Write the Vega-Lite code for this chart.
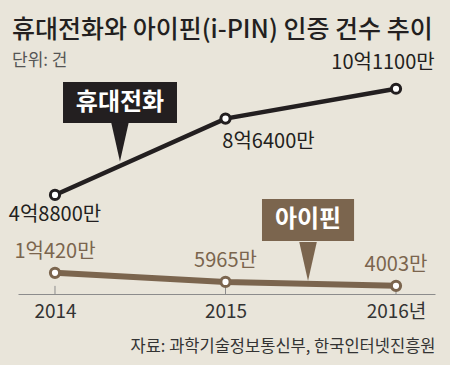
{
  "$schema": "https://vega.github.io/schema/vega-lite/v6.json",
  "width": 417,
  "height": 290,
  "autosize": "none",
  "padding": {"left": 18, "top": 75, "right": 15, "bottom": 0},
  "background": "#e9e5da",
  "config": {"view": {"stroke": null}, "font": "Noto Sans CJK KR"},
  "title": {
    "text": "휴대전화와 아이핀(i-PIN) 인증 건수 추이",
    "subtitle": "단위: 건",
    "anchor": "start",
    "frame": "group",
    "dx": -6,
    "offset": -16,
    "font": "Noto Sans CJK KR",
    "fontSize": 25,
    "fontWeight": 500,
    "color": "#231f20",
    "subtitleFont": "Noto Sans CJK KR",
    "subtitleFontSize": 17,
    "subtitleColor": "#555555",
    "subtitlePadding": 10
  },
  "datasets": {
    "series": [
      {"year": 2014, "series": "휴대전화", "count": 488000000, "label": "4억8800만"},
      {"year": 2015, "series": "휴대전화", "count": 864000000, "label": "8억6400만"},
      {"year": 2016, "series": "휴대전화", "count": 1011000000, "label": "10억1100만"},
      {"year": 2014, "series": "아이핀", "count": 104200000, "label": "1억420만"},
      {"year": 2015, "series": "아이핀", "count": 59650000, "label": "5965만"},
      {"year": 2016, "series": "아이핀", "count": 40030000, "label": "4003만"}
    ],
    "boxes": [
      {"series": "휴대전화", "x1": 2014.047, "x2": 2014.7155, "y1": 1044300000, "y2": 842400000, "tx": 2014.381, "ty": 943300000, "tipx": 2014.381, "tipy": 748800000},
      {"series": "아이핀", "x1": 2015.214, "x2": 2015.754, "y1": 468000000, "y2": 261100000, "tx": 2015.484, "ty": 364500000, "tipx": 2015.484, "tipy": 160100000}
    ]
  },
  "layer": [
    {
      "data": {"name": "series"},
      "transform": [{"filter": "datum.series == '아이핀'"}],
      "mark": {"type": "rule", "color": "#8c8c8c", "strokeWidth": 1},
      "encoding": {
        "x": {
          "field": "year",
          "type": "quantitative",
          "scale": {"domain": [2013.783, 2016.2287], "nice": false, "zero": false},
          "axis": {
            "values": [2014, 2015, 2016],
            "offset": -71,
            "ticks": false,
            "grid": false,
            "domainColor": "#8c8c8c",
            "domainWidth": 1,
            "labelExpr": "datum.value == 2016 ? '2016년' : datum.value + ''",
            "labelFont": "Liberation Sans Narrow, Noto Sans CJK KR",
            "labelFontSize": 19,
            "labelColor": "#333333",
            "labelPadding": 8,
            "labelFlush": false,
            "title": "자료: 과학기술정보통신부, 한국인터넷진흥원",
            "titleAnchor": "end",
            "titleFont": "Noto Sans CJK KR",
            "titleFontWeight": "normal",
            "titleFontSize": 16.5,
            "titleColor": "#333333",
            "titlePadding": 17
          }
        },
        "y": {"datum": 0, "type": "quantitative", "scale": {"domain": [-349750000, 1078800000], "nice": false, "zero": false}, "axis": null},
        "y2": {"datum": 40000000}
      }
    },
    {
      "data": {"name": "series"},
      "mark": {"type": "line"},
      "encoding": {
        "x": {"field": "year", "type": "quantitative"},
        "y": {"field": "count", "type": "quantitative"},
        "color": {"field": "series", "type": "nominal", "scale": {"domain": ["휴대전화", "아이핀"], "range": ["#231f20", "#7b654e"]}, "legend": null},
        "strokeWidth": {"field": "series", "type": "nominal", "scale": {"domain": ["휴대전화", "아이핀"], "range": [4.5, 6]}, "legend": null}
      }
    },
    {
      "data": {"name": "series"},
      "mark": {"type": "point", "filled": true, "fill": "white", "size": 85, "strokeWidth": 3, "opacity": 1},
      "encoding": {
        "x": {"field": "year", "type": "quantitative"},
        "y": {"field": "count", "type": "quantitative"},
        "stroke": {"field": "series", "type": "nominal", "scale": {"domain": ["휴대전화", "아이핀"], "range": ["#231f20", "#7b654e"]}, "legend": null}
      }
    },
    {
      "data": {"name": "series"},
      "transform": [{"filter": "datum.series == '아이핀'"}],
      "mark": {"type": "text", "font": "Liberation Sans Narrow, Noto Sans CJK KR", "fontSize": 20, "baseline": "middle", "align": "center", "dy": -21},
      "encoding": {
        "x": {"field": "year", "type": "quantitative"},
        "y": {"field": "count", "type": "quantitative"},
        "text": {"field": "label"},
        "color": {"field": "series", "type": "nominal", "legend": null}
      }
    },
    {
      "data": {"name": "series"},
      "transform": [{"filter": "datum.series == '휴대전화' && datum.year == 2014"}],
      "mark": {"type": "text", "font": "Liberation Sans Narrow, Noto Sans CJK KR", "fontSize": 20, "baseline": "middle", "align": "center", "dy": 20},
      "encoding": {
        "x": {"field": "year", "type": "quantitative"},
        "y": {"field": "count", "type": "quantitative"},
        "text": {"field": "label"},
        "color": {"field": "series", "type": "nominal", "legend": null}
      }
    },
    {
      "data": {"name": "series"},
      "transform": [{"filter": "datum.series == '휴대전화' && datum.year == 2015"}],
      "mark": {"type": "text", "font": "Liberation Sans Narrow, Noto Sans CJK KR", "fontSize": 20, "baseline": "middle", "align": "center", "dx": 43, "dy": 23},
      "encoding": {
        "x": {"field": "year", "type": "quantitative"},
        "y": {"field": "count", "type": "quantitative"},
        "text": {"field": "label"},
        "color": {"field": "series", "type": "nominal", "legend": null}
      }
    },
    {
      "data": {"name": "series"},
      "transform": [{"filter": "datum.series == '휴대전화' && datum.year == 2016"}],
      "mark": {"type": "text", "font": "Liberation Sans Narrow, Noto Sans CJK KR", "fontSize": 20, "baseline": "middle", "align": "center", "dx": -13, "dy": -26},
      "encoding": {
        "x": {"field": "year", "type": "quantitative"},
        "y": {"field": "count", "type": "quantitative"},
        "text": {"field": "label"},
        "color": {"field": "series", "type": "nominal", "legend": null}
      }
    },
    {
      "data": {"name": "boxes"},
      "mark": {"type": "rect"},
      "encoding": {
        "x": {"field": "x1", "type": "quantitative"},
        "x2": {"field": "x2"},
        "y": {"field": "y1", "type": "quantitative"},
        "y2": {"field": "y2"},
        "color": {"field": "series", "type": "nominal", "legend": null}
      }
    },
    {
      "data": {"name": "boxes"},
      "mark": {"type": "point", "shape": "M-0.45,-1L0.45,-1L0,1Z", "filled": true, "opacity": 1, "size": 1520},
      "encoding": {
        "x": {"field": "tipx", "type": "quantitative"},
        "y": {"field": "tipy", "type": "quantitative"},
        "color": {"field": "series", "type": "nominal", "legend": null}
      }
    },
    {
      "data": {"name": "boxes"},
      "mark": {"type": "text", "font": "Noto Sans CJK KR", "fontWeight": "bold", "fontSize": 24, "color": "white", "baseline": "middle", "align": "center"},
      "encoding": {
        "x": {"field": "tx", "type": "quantitative"},
        "y": {"field": "ty", "type": "quantitative"},
        "text": {"field": "series"}
      }
    }
  ]
}
